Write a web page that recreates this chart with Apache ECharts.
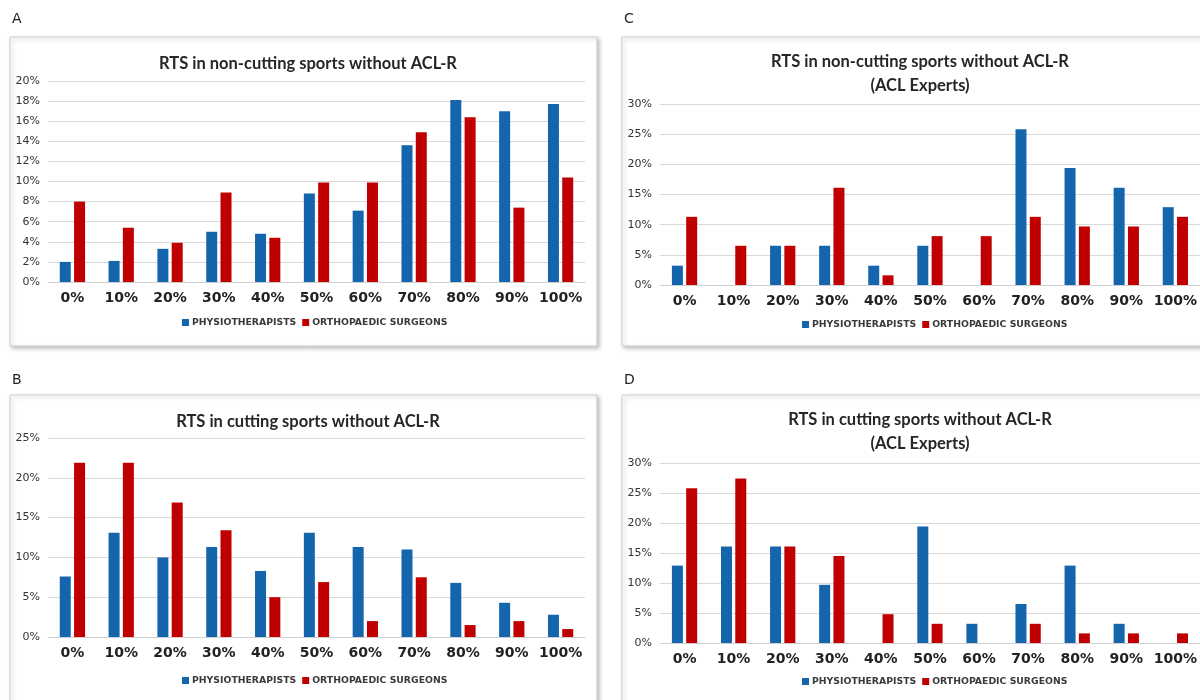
<!DOCTYPE html>
<html>
<head>
<meta charset="utf-8">
<script src="https://cdn.jsdelivr.net/npm/echarts@6/dist/echarts.min.js"></script>
<style>
  html, body { margin: 0; padding: 0; background: #fff; }
  #chart { width: 1200px; height: 700px; }
</style>
</head>
<body>
<div id="chart"></div>
<script>
var categories = ['0%', '10%', '20%', '30%', '40%', '50%', '60%', '70%', '80%', '90%', '100%'];
var seriesNames = ['PHYSIOTHERAPISTS', 'ORTHOPAEDIC SURGEONS'];

// A: non-cutting sports, all respondents
var physioA = [2.0, 2.1, 3.3, 5.0, 4.8, 8.8, 7.1, 13.6, 18.1, 17.0, 17.7];
var orthoA  = [8.0, 5.4, 3.9, 8.9, 4.4, 9.9, 9.9, 14.9, 16.4, 7.4, 10.4];
// B: cutting sports, all respondents
var physioB = [7.6, 13.1, 10.0, 11.3, 8.3, 13.1, 11.3, 11.0, 6.8, 4.3, 2.8];
var orthoB  = [21.9, 21.9, 16.9, 13.4, 5.0, 6.9, 2.0, 7.5, 1.5, 2.0, 1.0];
// C: non-cutting sports, ACL experts
var physioC = [3.2, 0, 6.5, 6.5, 3.2, 6.5, 0, 25.8, 19.4, 16.1, 12.9];
var orthoC  = [11.3, 6.5, 6.5, 16.1, 1.6, 8.1, 8.1, 11.3, 9.7, 9.7, 11.3];
// D: cutting sports, ACL experts
var physioD = [12.9, 16.1, 16.1, 9.7, 0, 19.4, 3.2, 6.5, 12.9, 3.2, 0];
var orthoD  = [25.8, 27.4, 16.1, 14.5, 4.8, 3.2, 0, 3.2, 1.6, 1.6, 1.6];

var titles = [
  'RTS in non-cutting sports without ACL-R',
  'RTS in non-cutting sports without ACL-R\n(ACL Experts)',
  'RTS in cutting sports without ACL-R',
  'RTS in cutting sports without ACL-R\n(ACL Experts)'
];
var yMax = [20, 30, 25, 30];
var yStep = [2, 5, 5, 5];

var BLUE = '#1565ad';
var RED = '#c00000';

var panels = [
  { grid: { left: 48, top: 81, width: 537, height: 201 }, title: { left: 303, top: 47 }, legend: { left: 182, top: 318 }, data: [physioA, orthoA] },
  { grid: { left: 660, top: 104, width: 540, height: 181 }, title: { left: 915, top: 45 }, legend: { left: 802, top: 320 }, data: [physioC, orthoC] },
  { grid: { left: 48, top: 438, width: 537, height: 199 }, title: { left: 303, top: 405 }, legend: { left: 182, top: 676 }, data: [physioB, orthoB] },
  { grid: { left: 660, top: 463, width: 540, height: 180 }, title: { left: 915, top: 403 }, legend: { left: 802, top: 677 }, data: [physioD, orthoD] }
];

var option = {
  backgroundColor: '#ffffff',
  animation: false,
  textStyle: { fontFamily: 'Lato, "Open Sans", sans-serif' },
  title: [],
  legend: [],
  grid: [],
  xAxis: [],
  yAxis: [],
  series: [],
  graphic: []
};

// panel frames and letters
var frames = [
  { x: 10, y: 37, w: 587, h: 309, label: 'A', lx: 12, ly: 12 },
  { x: 622, y: 37, w: 600, h: 309, label: 'C', lx: 624, ly: 12 },
  { x: 10, y: 395, w: 587, h: 320, label: 'B', lx: 12, ly: 373 },
  { x: 622, y: 395, w: 600, h: 320, label: 'D', lx: 624, ly: 373 }
];
frames.forEach(function (f) {
  option.graphic.push({
    type: 'rect', z: -10,
    shape: { x: f.x, y: f.y, width: f.w, height: f.h },
    style: { fill: '#fff', stroke: '#cfcfcf', lineWidth: 1, shadowBlur: 4, shadowOffsetX: 2, shadowOffsetY: 2, shadowColor: 'rgba(0,0,0,0.25)' }
  });
  option.graphic.push({
    type: 'text', left: f.lx, top: f.ly,
    style: { text: f.label, fill: '#222', font: '14px "DejaVu Sans", sans-serif' }
  });
});

panels.forEach(function (p, i) {
  option.title.push({
    text: titles[i],
    left: p.title.left, top: p.title.top,
    textAlign: 'center',
    textStyle: { fontSize: 16.5, fontWeight: 'bold', color: '#262626', lineHeight: 24, fontFamily: 'Lato, sans-serif' }
  });
  option.legend.push({
    data: seriesNames,
    left: p.legend.left, top: p.legend.top,
    itemWidth: 7, itemHeight: 7, itemGap: 6,
    icon: 'rect',
    padding: 0,
    textStyle: { fontSize: 9.3, fontWeight: 'bold', color: '#3a3a3a', fontFamily: '"DejaVu Sans", sans-serif', padding: [0, 0, 0, -2] }
  });
  option.grid.push(Object.assign({ containLabel: false }, p.grid));
  option.xAxis.push({
    type: 'category', gridIndex: i, data: categories,
    axisTick: { show: false },
    axisLine: { lineStyle: { color: '#d0d0d0' } },
    axisLabel: { fontSize: 14, fontWeight: 'bold', color: '#222', margin: 9, fontFamily: '"DejaVu Sans", sans-serif', interval: 0 }
  });
  option.yAxis.push({
    type: 'value', gridIndex: i, min: 0, max: yMax[i], interval: yStep[i],
    axisLine: { show: false }, axisTick: { show: false },
    splitLine: { lineStyle: { color: '#d9d9d9' } },
    axisLabel: { formatter: '{value}%', fontSize: 11, color: '#333', margin: 8, fontFamily: '"DejaVu Sans", sans-serif' }
  });
  option.series.push({
    name: seriesNames[0], type: 'bar', xAxisIndex: i, yAxisIndex: i,
    data: p.data[0], barWidth: 11, barGap: '30%',
    itemStyle: { color: BLUE }
  });
  option.series.push({
    name: seriesNames[1], type: 'bar', xAxisIndex: i, yAxisIndex: i,
    data: p.data[1], barWidth: 11, barGap: '30%',
    itemStyle: { color: RED }
  });
});

var chart = echarts.init(document.getElementById('chart'), null, { renderer: 'canvas' });
chart.setOption(option);
</script>
</body>
</html>
